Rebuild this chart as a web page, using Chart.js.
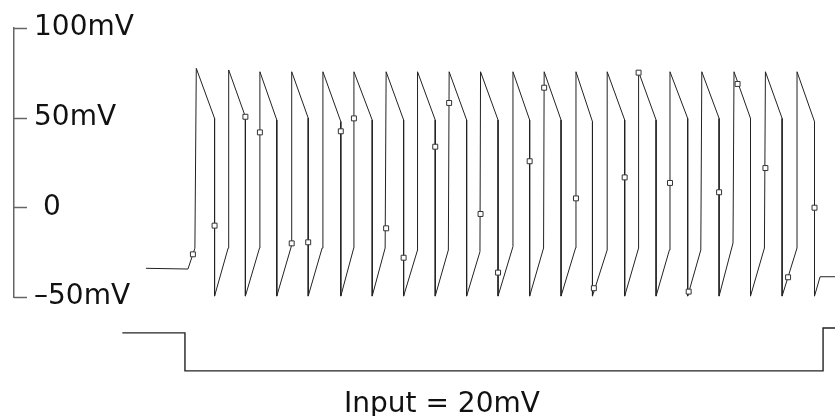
<!DOCTYPE html>
<html>
<head>
<meta charset="utf-8">
<title>Spike train</title>
<script src="https://cdn.jsdelivr.net/npm/chart.js@4/dist/chart.umd.min.js"></script>
<style>
  html, body { margin: 0; padding: 0; background: #fff; }
  #wrap { width: 838px; height: 416px; }
</style>
</head>
<body>
<div id="wrap"><canvas id="spikes" width="838" height="416"></canvas></div>
<script>
// membrane potential (mV) against time (ms)
const restPoints = [[66.4, -34.0], [87.5, -34.4]];

const riseT = [91.0, 107.7, 123.5, 139.7, 155.0, 170.9, 186.7, 203.0, 218.5, 234.4,
               251.0, 266.4, 282.5, 298.4, 314.2, 329.7, 345.5, 361.7, 377.5, 393.9];
const riseV = [-22.8, -22.8, -22.7, -21.0, -22.7, -22.7, -22.7, -23.8, -23.8, -24.7,
               -21.9, -22.7, -22.7, -23.8, -22.7, -23.8, -23.8, -19.9, -22.7, -22.7];
const peakT = [91.7, 108.0, 123.7, 139.7, 155.4, 171.0, 187.2, 203.0, 218.9, 234.7,
               251.0, 266.7, 282.7, 298.4, 314.2, 330.0, 346.0, 362.2, 378.0, 393.9];
const peakV = [77.5, 76.6, 75.6, 75.6, 75.6, 75.6, 75.6, 75.6, 75.6, 75.6,
               75.6, 75.6, 75.6, 75.6, 75.6, 75.6, 75.6, 75.6, 75.6, 75.6];
const dropT = [100.9, 116.4, 132.2, 148.0, 164.4, 180.2, 196.0, 211.9, 227.7, 243.5,
               259.4, 275.2, 291.0, 307.2, 323.0, 338.9, 354.7, 370.5, 386.4, 402.7];
const dropV = [49.6, 50.5, 48.7, 49.8, 47.8, 48.7, 48.7, 48.7, 48.7, 48.7,
               48.7, 48.7, 47.8, 48.7, 48.7, 49.6, 49.6, 49.6, 49.6, 47.8];
const troughV = [-49.5, -49.5, -49.5, -49.5, -49.5, -49.5, -49.5, -49.5, -49.5, -49.5,
                 -49.5, -49.5, -49.5, -49.5, -49.5, -49.5, -49.5, -49.5, -49.5, -49.5];
const tailPoints = [[405.5, -38.7], [413, -38.7]];

// sampled points
const sampleT = [90.0, 100.9, 116.4, 123.7, 139.7, 148.0, 164.4, 171.0, 187.2, 196.0,
                 211.9, 218.9, 234.7, 243.5, 259.4, 266.7, 282.7, 291.7, 307.2, 314.2,
                 330.0, 339.4, 354.7, 364.0, 378.0, 389.4, 402.7];
const sampleV = [-26.2, -10.2, 50.5, 41.8, -20.1, -19.5, 42.4, 49.6, -11.7, -28.1,
                 33.8, 58.2, -3.7, -36.4, 25.7, 66.7, 5.0, -45.1, 16.7, 75.1,
                 13.6, -47.0, 8.4, 68.8, 21.9, -39.0, -0.2];

// input step (mV)
const inputT = [54.5, 86.0, 86.0, 407.0, 407.0, 413.0];
const inputV = [0, 0, 20, 20, -2.6, -2.6];

const yTicks = [-50, 0, 50, 100];

// build the voltage trace
const trace = restPoints.map(p => ({ x: p[0], y: p[1] }));
for (let i = 0; i < peakT.length; i++) {
    trace.push({ x: riseT[i], y: riseV[i] });
    trace.push({ x: peakT[i], y: peakV[i] });
    trace.push({ x: dropT[i], y: dropV[i] });
    trace.push({ x: dropT[i], y: troughV[i] });
}
tailPoints.forEach(p => trace.push({ x: p[0], y: p[1] }));

const samples = sampleT.map((t, i) => ({ x: t, y: sampleV[i] }));
const input = inputT.map((t, i) => ({ x: t, y: inputV[i] }));

// inward tick marks and the input caption
const axisDecor = {
    id: 'axisDecor',
    afterDraw(chart) {
        const { ctx, chartArea, scales } = chart;
        const y = scales.y;
        ctx.save();
        ctx.strokeStyle = '#666';
        ctx.lineWidth = 1.5;
        yTicks.forEach(v => {
            const py = Math.round(y.getPixelForValue(v)) + 0.5;
            ctx.beginPath();
            ctx.moveTo(chartArea.left, py);
            ctx.lineTo(chartArea.left + 13, py);
            ctx.stroke();
        });
        ctx.fillStyle = '#111';
        ctx.font = '28px "DejaVu Sans"';
        ctx.textAlign = 'center';
        ctx.textBaseline = 'alphabetic';
        ctx.fillText('Input = 20mV', 442, 412);
        ctx.restore();
    }
};

new Chart(document.getElementById('spikes'), {
    type: 'scatter',
    data: {
        datasets: [
            {
                data: samples,
                pointStyle: 'rect',
                pointRadius: 3.5,
                borderColor: '#333',
                backgroundColor: '#fff',
                borderWidth: 1,
                order: 0
            },
            {
                data: trace,
                showLine: true,
                pointRadius: 0,
                borderColor: '#222',
                borderWidth: 1,
                clip: false,
                order: 1
            },
            {
                data: input,
                yAxisID: 'yIn',
                showLine: true,
                pointRadius: 0,
                borderColor: '#222',
                borderWidth: 1.4,
                clip: false,
                order: 2
            }
        ]
    },
    options: {
        responsive: false,
        animation: false,
        layout: { padding: { left: 14, top: 28, right: 0, bottom: 119 } },
        plugins: { legend: { display: false }, tooltip: { enabled: false } },
        scales: {
            x: { type: 'linear', display: false, min: 0, max: 412 },
            y: {
                type: 'linear',
                min: -50,
                max: 100,
                afterBuildTicks: axis => { axis.ticks = yTicks.map(v => ({ value: v })); },
                afterFit: axis => {
                    // labels sit inside the plot, so the axis takes no room
                    axis.width = 0;
                    axis.paddingTop = 0;
                    axis.paddingBottom = 0;
                },
                grid: { display: false, drawTicks: false },
                border: { display: true, color: '#666', width: 1.5 },
                ticks: {
                    mirror: true,
                    padding: 20,
                    color: '#111',
                    font: { family: 'DejaVu Sans', size: 28 },
                    callback: v => v === 0 ? ' 0' : (v < 0 ? '\u2013' + Math.abs(v) : v) + 'mV'
                }
            },
            yIn: { type: 'linear', display: false, reverse: true, min: -160.5, max: -18.9 }
        }
    },
    plugins: [axisDecor]
});
</script>
</body>
</html>
